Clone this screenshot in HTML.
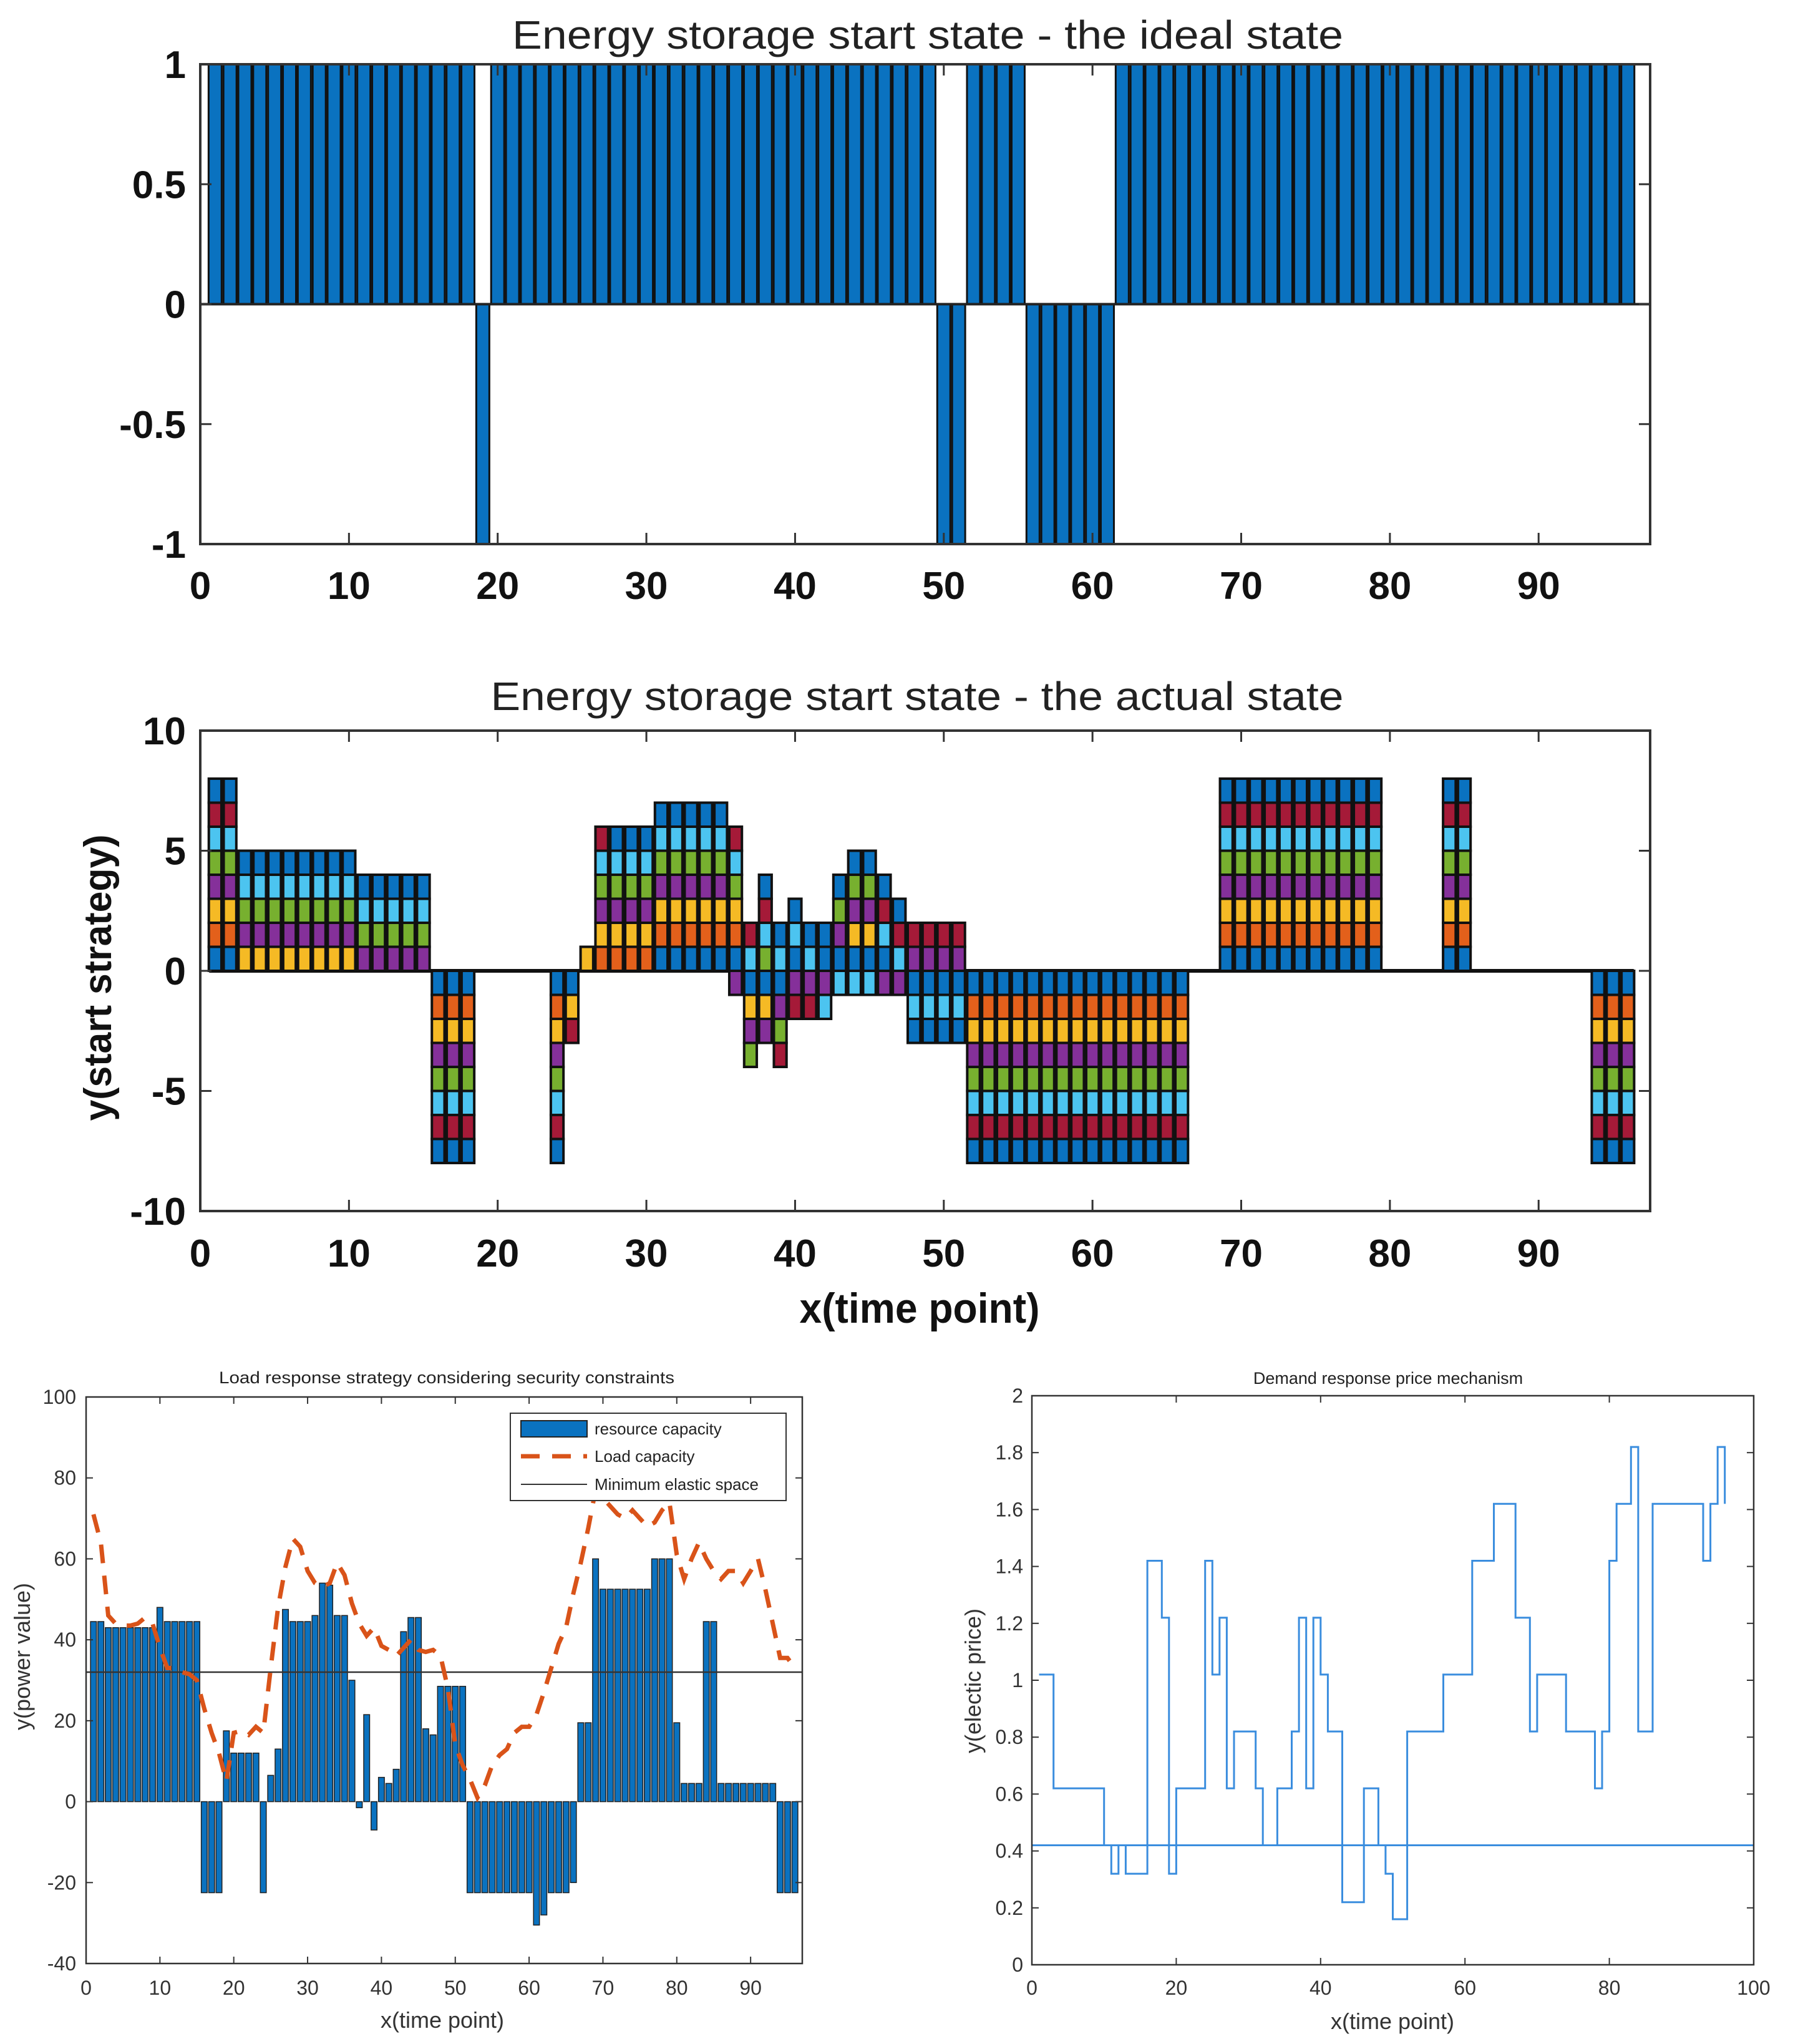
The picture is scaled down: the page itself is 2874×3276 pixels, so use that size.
<!DOCTYPE html>
<html><head><meta charset="utf-8"><style>
html,body{margin:0;padding:0;background:#fff;}
svg{display:block;}
text{font-family:"Liberation Sans",Arial,sans-serif;}
</style></head>
<body>
<svg id="fig" width="2874" height="3276" viewBox="0 0 2874 3276" xmlns="http://www.w3.org/2000/svg"></svg>
<script>
// ---------- Chart 1: ideal state ----------
const idealX = [];
for (let i = 1; i <= 96; i++) idealX.push(i);
const idealVals = [1,1,1,1,1,1,1,1,1,1, 1,1,1,1,1,1,1,1,-1,1, 1,1,1,1,1,1,1,1,1,1, 1,1,1,1,1,1,1,1,1,1, 1,1,1,1,1,1,1,1,1,-1, -1,1,1,1,1,-1,-1,-1,-1,-1, -1,1,1,1,1,1,1,1,1,1, 1,1,1,1,1,1,1,1,1,1, 1,1,1,1,1,1,1,1,1,1, 1,1,1,1,1,1];
const idealYTicks = [-1,-0.5,0,0.5,1];
const idealYLabels = ["-1","-0.5","0","0.5","1"];
const xTicks97 = [0,10,20,30,40,50,60,70,80,90];

// ---------- Chart 2: actual state (8 stacked series) ----------
const s1 = [1,1,0,0,0,0,0,0,0,0, 0,0,0,0,0,-1,-1,-1,0,0, 0,0,0,-1,-1,0,0,0,0,0, 1,1,1,1,1,1,-1,-1,-1,1, 0,1,1,1,1,1,0,-1,-1,-1, -1,-1,-1,-1,-1,-1,-1,-1,-1,-1, -1,-1,-1,-1,-1,-1,0,0,1,1, 1,1,1,1,1,1,1,1,1,0, 0,0,0,1,1,0,0,0,0,0, 0,0,0,-1,-1,-1];
const s2 = [1,1,0,0,0,0,0,0,0,0, 0,0,0,0,0,-1,-1,-1,0,0, 0,0,0,-1,0,0,1,1,1,1, 1,1,1,1,1,1,0,0,0,0, 0,0,0,0,0,0,0,0,0,0, 0,-1,-1,-1,-1,-1,-1,-1,-1,-1, -1,-1,-1,-1,-1,-1,0,0,1,1, 1,1,1,1,1,1,1,1,1,0, 0,0,0,1,1,0,0,0,0,0, 0,0,0,-1,-1,-1];
const s3 = [1,1,1,1,1,1,1,1,1,1, 0,0,0,0,0,-1,-1,-1,0,0, 0,0,0,-1,-1,1,1,1,1,1, 1,1,1,1,1,1,-1,-1,0,0, 0,0,0,1,1,0,0,0,0,0, 0,-1,-1,-1,-1,-1,-1,-1,-1,-1, -1,-1,-1,-1,-1,-1,0,0,1,1, 1,1,1,1,1,1,1,1,1,0, 0,0,0,1,1,0,0,0,0,0, 0,0,0,-1,-1,-1];
const s4 = [1,1,1,1,1,1,1,1,1,1, 1,1,1,1,1,-1,-1,-1,0,0, 0,0,0,-1,0,0,1,1,1,1, 1,1,1,1,1,-1,-1,-1,-1,-1, -1,-1,1,1,1,-1,-1,1,1,1, 1,-1,-1,-1,-1,-1,-1,-1,-1,-1, -1,-1,-1,-1,-1,-1,0,0,1,1, 1,1,1,1,1,1,1,1,1,0, 0,0,0,1,1,0,0,0,0,0, 0,0,0,-1,-1,-1];
const s5 = [1,1,1,1,1,1,1,1,1,1, 1,1,1,1,1,-1,-1,-1,0,0, 0,0,0,-1,0,0,1,1,1,1, 1,1,1,1,1,1,-1,1,-1,0, 0,0,1,1,1,0,0,0,0,0, 0,-1,-1,-1,-1,-1,-1,-1,-1,-1, -1,-1,-1,-1,-1,-1,0,0,1,1, 1,1,1,1,1,1,1,1,1,0, 0,0,0,1,1,0,0,0,0,0, 0,0,0,-1,-1,-1];
const s6 = [1,1,1,1,1,1,1,1,1,1, 1,1,1,1,1,-1,-1,-1,0,0, 0,0,0,-1,0,0,1,1,1,1, 1,1,1,1,1,1,1,1,1,1, 1,-1,-1,-1,-1,1,1,-1,-1,-1, -1,-1,-1,-1,-1,-1,-1,-1,-1,-1, -1,-1,-1,-1,-1,-1,0,0,1,1, 1,1,1,1,1,1,1,1,1,0, 0,0,0,1,1,0,0,0,0,0, 0,0,0,-1,-1,-1];
const s7 = [1,1,0,0,0,0,0,0,0,0, 0,0,0,0,0,-1,-1,-1,0,0, 0,0,0,-1,-1,0,1,0,0,0, 0,0,0,0,0,1,1,1,-1,-1, -1,0,0,0,0,1,1,1,1,1, 1,-1,-1,-1,-1,-1,-1,-1,-1,-1, -1,-1,-1,-1,-1,-1,0,0,1,1, 1,1,1,1,1,1,1,1,1,0, 0,0,0,1,1,0,0,0,0,0, 0,0,0,-1,-1,-1];
const s8 = [1,1,1,1,1,1,1,1,1,1, 1,1,1,1,1,-1,-1,-1,0,0, 0,0,0,-1,0,0,0,1,1,1, 1,1,1,1,1,0,0,1,1,1, 1,1,1,1,1,1,1,-1,-1,-1, -1,-1,-1,-1,-1,-1,-1,-1,-1,-1, -1,-1,-1,-1,-1,-1,0,0,1,1, 1,1,1,1,1,1,1,1,1,0, 0,0,0,1,1,0,0,0,0,0, 0,0,0,-1,-1,-1];
const actualYTicks = [-10,-5,0,5,10];

// ---------- Chart 3: load response ----------
const resourceCap = [44.5,44.5,43,43,43,43,43,43,43,48, 44.5,44.5,44.5,44.5,44.5,-22.5,-22.5,-22.5,17.5,12, 12,12,12,-22.5,6.5,13,47.5,44.5,44.5,44.5, 46,54,53.5,46,46,30,-1.5,21.5,-7,6, 4.5,8,42,45.5,45.5,18,16.5,28.5,28.5,28.5, 28.5,-22.5,-22.5,-22.5,-22.5,-22.5,-22.5,-22.5,-22.5,-22.5, -30.5,-28,-22.5,-22.5,-22.5,-20,19.5,19.5,60,52.5, 52.5,52.5,52.5,52.5,52.5,52.5,60,60,60,19.5, 4.5,4.5,4.5,44.5,44.5,4.5,4.5,4.5,4.5,4.5, 4.5,4.5,4.5,-22.5,-22.5,-22.5];
const loadCap = [71,64,46,44,43.5,43.5,44,45.5,44,38, 33,33,32,31.5,30,23,17,12,5,17, 17.5,16.5,18.5,17,33,48,58,65,63,57, 54,53,54,59,56,49,44,41,43,38.5, 37.5,36,38,40,37.5,37,37.5,36,28,14, 9,5.5,1,4,9,11.5,13,17,18.5,18.5, 21.5,27,33,39,43,51.5,59,67.5,77,75, 73,71,70,72,70,68,69,72,74,61, 55,60,64,60,57,55,57,57,54,57, 60,52.5,44,35.5,35.5,33];
const minElastic = 32;
const loadYTicks = [-40,-20,0,20,40,60,80,100];

// ---------- Chart 4: price ----------
const price = [1.02,1.02,0.62,0.62,0.62,0.62,0.62,0.62,0.62,0.42, 0.32,0.42,0.32,0.32,0.32,1.42,1.42,1.22,0.32,0.62, 0.62,0.62,0.62,1.42,1.02,1.22,0.62,0.82,0.82,0.82, 0.62,0.42,0.42,0.62,0.62,0.82,1.22,0.62,1.22,1.02, 0.82,0.82,0.22,0.22,0.22,0.62,0.62,0.42,0.32,0.16, 0.16,0.82,0.82,0.82,0.82,0.82,1.02,1.02,1.02,1.02, 1.42,1.42,1.42,1.62,1.62,1.62,1.22,1.22,0.82,1.02, 1.02,1.02,1.02,0.82,0.82,0.82,0.82,0.62,0.82,1.42, 1.62,1.62,1.82,0.82,0.82,1.62,1.62,1.62,1.62,1.62, 1.62,1.62,1.42,1.62,1.82,1.62];
const priceRef = 0.42;
const priceYTicks = [0,0.2,0.4,0.6,0.8,1,1.2,1.4,1.6,1.8,2];
const priceYLabels = ["0","0.2","0.4","0.6","0.8","1","1.2","1.4","1.6","1.8","2"];
const priceXTicks = [0,20,40,60,80,100];

const NS = "http://www.w3.org/2000/svg";
const fig = document.getElementById('fig');
function mk(tag, attrs, parent) {
  const e = document.createElementNS(NS, tag);
  for (const k in attrs) e.setAttribute(k, attrs[k]);
  (parent || fig).appendChild(e);
  return e;
}
function txt(s, attrs, parent) { const t = mk('text', attrs, parent); t.textContent = s; return t; }
function scale(d0, d1, r0, r1) { return v => r0 + (v - d0) * (r1 - r0) / (d1 - d0); }

const COLORS = ['#0A72C0','#E3601B','#F5BA25','#85309A','#77B02F','#4CC4F0','#A51A38','#0A72C0'];

// ===== Chart 1 =====
(function(){
  const L=321,R=2645,T=103,B=872;
  const g = mk('g', {});
  
  
  const x = scale(0,97.5,L,R), y = scale(-1,1,B,T);
  const t = txt('Energy storage start state - the ideal state', {x:1487,y:78,'text-anchor':'middle','font-size':64,fill:'#222',textLength:1332,lengthAdjust:'spacingAndGlyphs'}, g);
  
  
  const bw = (x(0.88)-x(0));
  idealVals.forEach((v,i)=>{
    const cx = x(idealX[i]);
    const y0 = y(0), y1 = y(v);
    const r = mk('rect',{x:cx-bw/2,y:Math.min(y0,y1),width:bw,height:Math.abs(y1-y0),fill:'#0A72C0',stroke:'#111','stroke-width':3}, g);
    
    
  });
  const box = mk('rect',{x:L,y:T,width:R-L,height:B-T,fill:'none',stroke:'#333','stroke-width':4}, g);
  
  
  mk('line',{x1:L,x2:R,y1:y(0),y2:y(0),stroke:'#222','stroke-width':4}, g);
  idealYTicks.forEach((v,i)=>{
    mk('line',{x1:L,x2:L+18,y1:y(v),y2:y(v),stroke:'#333','stroke-width':3}, g);
    mk('line',{x1:R,x2:R-18,y1:y(v),y2:y(v),stroke:'#333','stroke-width':3}, g);
    const lb = txt(idealYLabels[i], {x:298,y:y(v)+22,'text-anchor':'end','font-size':62,'font-weight':'bold',fill:'#111'}, g);
    
    
  });
  xTicks97.forEach(v=>{
    mk('line',{x1:x(v),x2:x(v),y1:B,y2:B-18,stroke:'#333','stroke-width':3}, g);
    mk('line',{x1:x(v),x2:x(v),y1:T,y2:T+18,stroke:'#333','stroke-width':3}, g);
    const lb = txt(String(v), {x:x(v),y:960,'text-anchor':'middle','font-size':62,'font-weight':'bold',fill:'#111'}, g);
    
    
  });
})();

// ===== Chart 2 =====
(function(){
  const L=321,R=2645,T=1171,B=1941;
  const series = [s1,s2,s3,s4,s5,s6,s7,s8];
  const g = mk('g', {});
  
  
  const x = scale(0,97.5,L,R), y = scale(-10,10,B,T);
  const t = txt('Energy storage start state - the actual state', {x:1470,y:1138,'text-anchor':'middle','font-size':64,fill:'#222',textLength:1367,lengthAdjust:'spacingAndGlyphs'}, g);
  
  
  mk('line',{x1:x(0.6),x2:x(96.4),y1:y(0),y2:y(0),stroke:'#111','stroke-width':6}, g);
  const bw = x(0.85)-x(0);
  for (let i=0;i<96;i++){
    let pos=0, neg=0;
    series.forEach((s,k)=>{
      const v = s[i];
      if (v===0) return;
      let a,b;
      if (v>0){ a=pos; b=pos+v; pos=b; } else { a=neg; b=neg+v; neg=b; }
      const cx = x(i+1);
      const r = mk('rect',{x:cx-bw/2,y:Math.min(y(a),y(b)),width:bw,height:Math.abs(y(b)-y(a)),fill:COLORS[k],stroke:'#111','stroke-width':4}, g);
      
      
    });
  }
  const box = mk('rect',{x:L,y:T,width:R-L,height:B-T,fill:'none',stroke:'#333','stroke-width':4}, g);
  
  
  actualYTicks.forEach(v=>{
    mk('line',{x1:L,x2:L+18,y1:y(v),y2:y(v),stroke:'#333','stroke-width':3}, g);
    mk('line',{x1:R,x2:R-18,y1:y(v),y2:y(v),stroke:'#333','stroke-width':3}, g);
    const lb = txt(String(v), {x:298,y:y(v)+22,'text-anchor':'end','font-size':62,'font-weight':'bold',fill:'#111'}, g);
    
    
  });
  xTicks97.forEach(v=>{
    mk('line',{x1:x(v),x2:x(v),y1:B,y2:B-18,stroke:'#333','stroke-width':3}, g);
    mk('line',{x1:x(v),x2:x(v),y1:T,y2:T+18,stroke:'#333','stroke-width':3}, g);
    const lb = txt(String(v), {x:x(v),y:2030,'text-anchor':'middle','font-size':62,'font-weight':'bold',fill:'#111'}, g);
    
    
  });
  const xl = txt('x(time point)', {x:1474,y:2120,'text-anchor':'middle','font-size':68,'font-weight':'bold',fill:'#111',textLength:385,lengthAdjust:'spacingAndGlyphs'}, g);
  
  
  const yl = txt('y(start strategy)', {x:0,y:0,'text-anchor':'middle','font-size':62,'font-weight':'bold',fill:'#111',textLength:459,lengthAdjust:'spacingAndGlyphs',transform:'translate(178,1567) rotate(-90)'}, g);
  
  
})();

// ===== Chart 3 =====
(function(){
  const L=138,R=1286,T=2239,B=3147;
  const g = mk('g', {});
  
  
  const x = scale(0,97,L,R), y = scale(-40,100,B,T);
  const t = txt('Load response strategy considering security constraints', {x:716,y:2217,'text-anchor':'middle','font-size':27,fill:'#222',textLength:730,lengthAdjust:'spacingAndGlyphs'}, g);
  
  
  const bw = x(0.8)-x(0);
  resourceCap.forEach((v,i)=>{
    const cx=x(i+1);
    const r = mk('rect',{x:cx-bw/2,y:Math.min(y(0),y(v)),width:bw,height:Math.abs(y(v)-y(0)),fill:'#0A72C0',stroke:'#222','stroke-width':1.5}, g);
    
    
  });
  const hl = mk('line',{x1:L,x2:R,y1:y(minElastic),y2:y(minElastic),stroke:'#333','stroke-width':2.5}, g);
  
  
  const pts = loadCap.map((v,i)=>x(i+1).toFixed(1)+','+y(v).toFixed(1)).join(' ');
  const pl = mk('polyline',{points:pts,fill:'none',stroke:'#D95319','stroke-width':7,'stroke-dasharray':'30 20'}, g);
  
  
  const box = mk('rect',{x:L,y:T,width:R-L,height:B-T,fill:'none',stroke:'#333','stroke-width':2.5}, g);
  
  
  loadYTicks.forEach(v=>{
    mk('line',{x1:L,x2:L+11,y1:y(v),y2:y(v),stroke:'#333','stroke-width':2}, g);
    mk('line',{x1:R,x2:R-11,y1:y(v),y2:y(v),stroke:'#333','stroke-width':2}, g);
    const lb = txt(String(v), {x:122,y:y(v)+11,'text-anchor':'end','font-size':32,fill:'#333'}, g);
    
    
  });
  xTicks97.forEach(v=>{
    mk('line',{x1:x(v),x2:x(v),y1:B,y2:B-11,stroke:'#333','stroke-width':2}, g);
    mk('line',{x1:x(v),x2:x(v),y1:T,y2:T+11,stroke:'#333','stroke-width':2}, g);
    const lb = txt(String(v), {x:x(v),y:3197,'text-anchor':'middle','font-size':32,fill:'#333'}, g);
    
    
  });
  const xl = txt('x(time point)', {x:709,y:3250,'text-anchor':'middle','font-size':36,fill:'#333'}, g);
  
  
  const yl = txt('y(power value)', {x:0,y:0,'text-anchor':'middle','font-size':36,fill:'#333',transform:'translate(48,2655) rotate(-90)'}, g);
  
  
  // legend
  const lg = mk('g', {}, g);
  
  
  mk('rect',{x:818,y:2265,width:442,height:140,fill:'#fff',stroke:'#333','stroke-width':2}, lg);
  const e1 = mk('rect',{x:835,y:2277,width:106,height:26,fill:'#0A72C0',stroke:'#222','stroke-width':2}, lg);
  
  
  const l1 = txt('resource capacity',{x:953,y:2299,'font-size':26,fill:'#222'}, lg);
  
  
  const e2 = mk('line',{x1:835,x2:941,y1:2334,y2:2334,stroke:'#D95319','stroke-width':7,'stroke-dasharray':'30 20'}, lg);
  
  
  const l2 = txt('Load capacity',{x:953,y:2343,'font-size':26,fill:'#222'}, lg);
  
  
  const e3 = mk('line',{x1:835,x2:941,y1:2379,y2:2379,stroke:'#333','stroke-width':2}, lg);
  
  
  const l3 = txt('Minimum elastic space',{x:953,y:2388,'font-size':26,fill:'#222'}, lg);
  
  
})();

// ===== Chart 4 =====
(function(){
  const L=1654,R=2811,T=2237,B=3149;
  const g = mk('g', {});
  
  
  const x = scale(0,100,L,R), y = scale(0,2,B,T);
  const t = txt('Demand response price mechanism', {x:2225,y:2218,'text-anchor':'middle','font-size':27,fill:'#222'}, g);
  
  
  let d = '';
  price.forEach((v,i)=>{
    const xi = x(i+1);
    d += (i===0 ? 'M' : 'L') + xi.toFixed(1) + ',' + y(v).toFixed(1);
    if (i < price.length-1) d += 'L' + x(i+2).toFixed(1) + ',' + y(v).toFixed(1);
  });
  const p = mk('path',{d:d,fill:'none',stroke:'#3A8DDE','stroke-width':3}, g);
  
  
  const hl = mk('line',{x1:L,x2:R,y1:y(priceRef),y2:y(priceRef),stroke:'#3A8DDE','stroke-width':3}, g);
  
  
  const box = mk('rect',{x:L,y:T,width:R-L,height:B-T,fill:'none',stroke:'#333','stroke-width':2.5}, g);
  
  
  priceYTicks.forEach((v,i)=>{
    mk('line',{x1:L,x2:L+11,y1:y(v),y2:y(v),stroke:'#333','stroke-width':2}, g);
    mk('line',{x1:R,x2:R-11,y1:y(v),y2:y(v),stroke:'#333','stroke-width':2}, g);
    const lb = txt(priceYLabels[i], {x:1640,y:y(v)+11,'text-anchor':'end','font-size':32,fill:'#333'}, g);
    
    
  });
  priceXTicks.forEach(v=>{
    mk('line',{x1:x(v),x2:x(v),y1:B,y2:B-11,stroke:'#333','stroke-width':2}, g);
    mk('line',{x1:x(v),x2:x(v),y1:T,y2:T+11,stroke:'#333','stroke-width':2}, g);
    const lb = txt(String(v), {x:x(v),y:3197,'text-anchor':'middle','font-size':32,fill:'#333'}, g);
    
    
  });
  const xl = txt('x(time point)', {x:2232,y:3252,'text-anchor':'middle','font-size':36,fill:'#333'}, g);
  
  
  const yl = txt('y(electic price)', {x:0,y:0,'text-anchor':'middle','font-size':36,fill:'#333',transform:'translate(1572,2694) rotate(-90)'}, g);
  
  
})();
</script>
</body></html>
